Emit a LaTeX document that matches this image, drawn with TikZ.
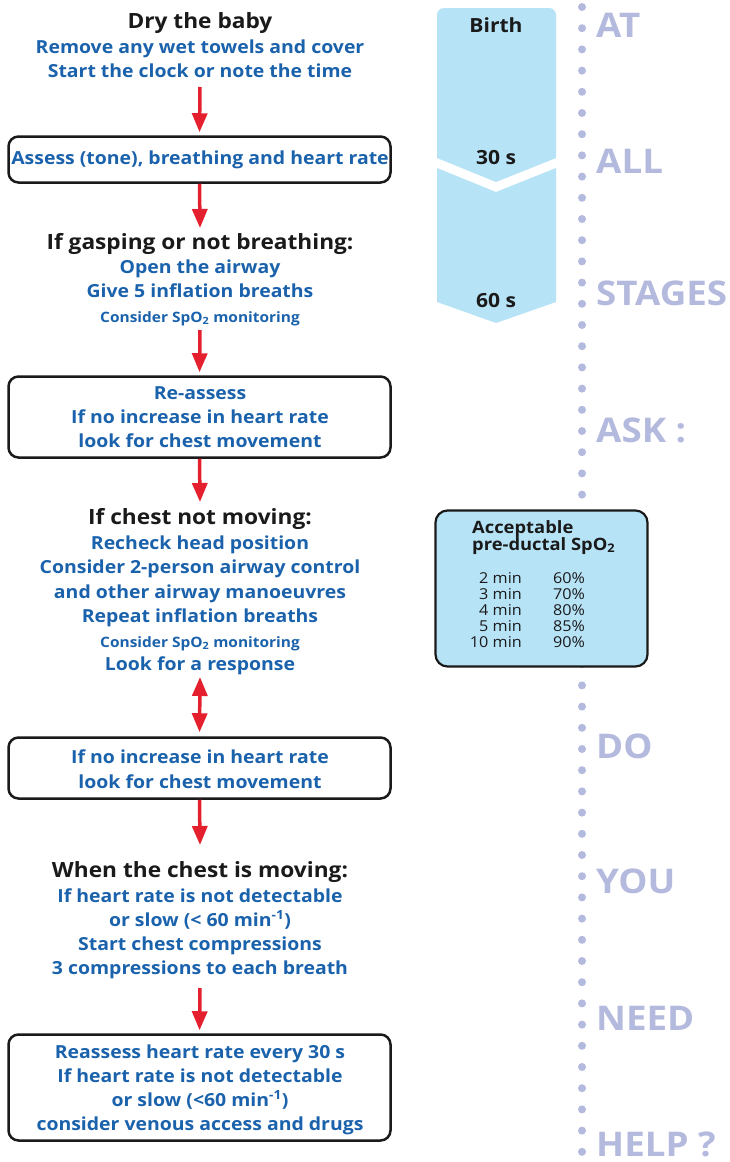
\documentclass[tikz,border=0pt]{standalone}
\usepackage{fontspec}
\setmainfont{Open Sans}[FakeStretch=1.08]
\usetikzlibrary{arrows.meta}
\definecolor{tblue}{HTML}{1B62AC}
\definecolor{tred}{HTML}{E5202E}
\definecolor{band}{HTML}{B7E3F7}
\definecolor{lav}{HTML}{B4B9DE}
\definecolor{txt}{HTML}{1A1A1A}
\tikzset{
  hd/.style={anchor=base, font=\fontsize{21}{24}\selectfont\bfseries, text=txt, inner sep=0pt},
  bl/.style={anchor=base, font=\fontsize{18}{20}\selectfont\bfseries, text=tblue, inner sep=0pt},
  sm/.style={anchor=base, font=\fontsize{14.3}{16}\selectfont\bfseries, text=tblue, inner sep=0pt},
  stepbox/.style={draw=txt, line width=2.5pt, rounded corners=10pt, minimum width=382pt, inner sep=0pt},
  arr/.style={draw=tred, line width=3.5pt, -{Triangle[width=15pt,length=19pt]}},
  darr/.style={draw=tred, line width=3.5pt, {Triangle[width=15pt,length=19pt]}-{Triangle[width=15pt,length=19pt]}},
  tm/.style={anchor=base, font=\fontsize{19.5}{22}\selectfont\bfseries, text=txt, inner sep=0pt},
  big/.style={anchor=base west, font=\fontsize{34}{36}\selectfont\bfseries, text=lav, inner sep=0pt},
  spo/.style={anchor=base west, font=\fontsize{17}{19}\selectfont\bfseries, text=txt, inner sep=0pt},
  rowl/.style={anchor=base east, font=\fontsize{15}{17}\selectfont, text=txt, inner sep=0pt},
  rowr/.style={anchor=base west, font=\fontsize{15}{17}\selectfont, text=txt, inner sep=0pt},
}
\begin{document}
\begin{tikzpicture}[x=1pt,y=-1pt]
\useasboundingbox (0,0) rectangle (730,1162);
\fill[white] (0,0) rectangle (730,1162);

% dotted line
\foreach \k in {0,...,54} \fill[lav] (582,{7+21.2*\k}) circle (4pt);

% big words
\node[big] (wAT) at (596,37) {AT};
\node[big] (wALL) at (596,173) {ALL};
\node[big] (wSTAGES) at (596,305) {STAGES};
\node[big] (wASK) at (596,442) {ASK :};
\node[big] (wDO) at (596,758) {DO};
\node[big] (wYOU) at (596,893) {YOU};
\node[big] (wNEED) at (596,1030) {NEED};
\node[big] (wHELP) at (596,1156) {HELP ?};

% time band
\fill[band] (437,158) [rounded corners=7pt] -- (437,8) -- (556,8) [sharp corners] -- (556,158) -- (496,182) -- cycle;
\fill[band] (437,168) -- (496,192) -- (556,168) -- (556,302) -- (496,323) -- (437,302) -- cycle;
\node[tm] (tBirth) at (496,32) {Birth};
\node[tm] (t30) at (496,164) {30 s};
\node[tm] (t60) at (496,307) {60 s};

% SpO2 box
\node[draw=txt, fill=band, line width=2.2pt, rounded corners=12pt, minimum width=212pt, minimum height=156pt, inner sep=0pt] (spo) at (541.5,588.5) {};
\node[spo] (spo1) at (472,533) {Acceptable};
\node[spo] (spo2) at (472,550) {pre-ductal SpO\textsubscript{2}};
\node[rowl] (r1l) at (522,583) {2 min};  \node[rowr] (r1r) at (553,583) {60\%};
\node[rowl] (r2l) at (522,599) {3 min};  \node[rowr] (r2r) at (553,599) {70\%};
\node[rowl] (r3l) at (522,615) {4 min};  \node[rowr] (r3r) at (553,615) {80\%};
\node[rowl] (r4l) at (522,631) {5 min};  \node[rowr] (r4r) at (553,631) {85\%};
\node[rowl] (r5l) at (522,647) {10 min}; \node[rowr] (r5r) at (553,647) {90\%};

% left column
\node[hd] (h1) at (200,28) {Dry the baby};
\node[bl] (s1a) at (200,53) {Remove any wet towels and cover};
\node[bl] (s1b) at (200,77) {Start the clock or note the time};

\node[stepbox, minimum height=46pt] (b1) at (199.5,159.5) {};
\node[bl] (b1a) at (200,164) {Assess (tone), breathing and heart rate};

\node[hd] (h2) at (200,249) {If gasping or not breathing:};
\node[bl] (s2a) at (200,273) {Open the airway};
\node[bl] (s2b) at (200,297) {Give 5 inflation breaths};
\node[sm] (s2c) at (200,322) {Consider SpO\textsubscript{2} monitoring};

\node[stepbox, minimum height=81pt] (b2) at (199.5,417) {};
\node[bl] (b2a) at (200,399) {Re-assess};
\node[bl] (b2b) at (200,423) {If no increase in heart rate};
\node[bl] (b2c) at (200,447) {look for chest movement};

\node[hd] (h3) at (200,524) {If chest not moving:};
\node[bl] (s3a) at (200,549) {Recheck head position};
\node[bl] (s3b) at (200,573) {Consider 2-person airway control};
\node[bl] (s3c) at (200,598) {and other airway manoeuvres};
\node[bl] (s3d) at (200,622) {Repeat inflation breaths};
\node[sm] (s3e) at (200,647) {Consider SpO\textsubscript{2} monitoring};
\node[bl] (s3f) at (200,670) {Look for a response};

\node[stepbox, minimum height=61pt] (b3) at (199.5,768) {};
\node[bl] (b3a) at (200,763) {If no increase in heart rate};
\node[bl] (b3b) at (200,788) {look for chest movement};

\node[hd] (h4) at (200,877) {When the chest is moving:};
\node[bl] (s4a) at (200,902) {If heart rate is not detectable};
\node[bl] (s4b) at (200,926) {or slow (< 60 min\textsuperscript{-1})};
\node[bl] (s4c) at (200,950) {Start chest compressions};
\node[bl] (s4d) at (200,974) {3 compressions to each breath};

\node[stepbox, minimum height=106pt] (b4) at (199.5,1087.5) {};
\node[bl] (b4a) at (200,1058) {Reassess heart rate every 30 s};
\node[bl] (b4b) at (200,1082) {If heart rate is not detectable};
\node[bl] (b4c) at (200,1106) {or slow (<60 min\textsuperscript{-1})};
\node[bl] (b4d) at (200,1130) {consider venous access and drugs};

% arrows
\coordinate (a1s) at (200,87);
\coordinate (a2e) at (200,228);
\coordinate (a3s) at (200,330);
\coordinate (a4e) at (200,502);
\coordinate (a5s) at (200,677);
\coordinate (a6e) at (200,845);
\coordinate (a7s) at (200,988);
\draw[arr, shorten >=3pt] (a1s) -- (b1.north);
\draw[arr] (b1.south) -- (a2e);
\draw[arr, shorten >=3pt] (a3s) -- (b2.north);
\draw[arr] (b2.south) -- (a4e);
\draw[darr, shorten >=4pt] (a5s) -- (b3.north);
\draw[arr] (b3.south) -- (a6e);
\draw[arr, shorten >=3pt] (a7s) -- (b4.north);
\end{tikzpicture}
\end{document}
